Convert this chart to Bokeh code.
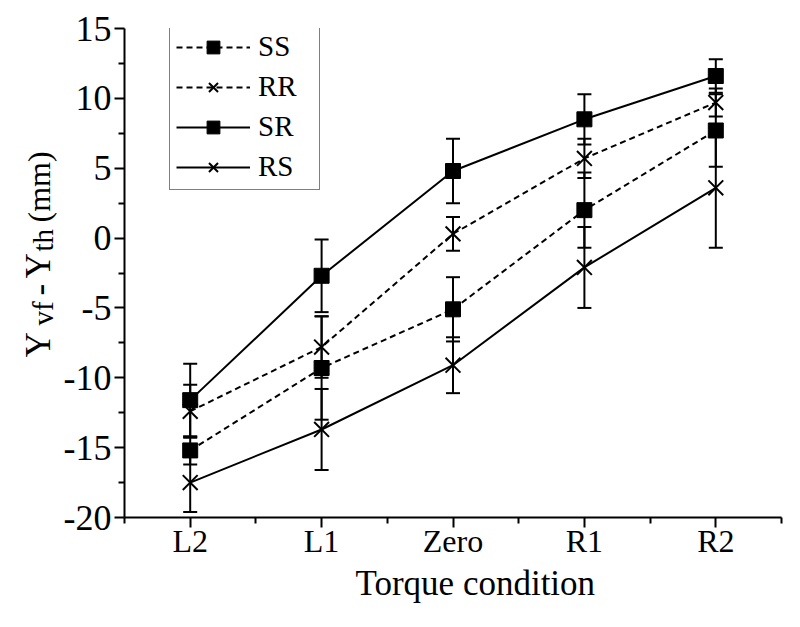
from bokeh.plotting import figure
from bokeh.layouts import row
from bokeh.models import (Range1d, FixedTicker, Legend, LegendItem, Whisker,
                          ColumnDataSource, TeeHead, Title)
from bokeh.core.properties import value
from bokeh.embed import file_html
from bokeh.resources import INLINE
import math

# ---- data ----
categories = ["L2", "L1", "Zero", "R1", "R2"]
x_pos = [1, 2, 3, 4, 5]

ss = [-15.2, -9.3, -5.1, 2.0, 7.7]
ss_err = [1.0, 3.7, 2.3, 2.7, 2.6]

rr = [-12.4, -7.8, 0.3, 5.7, 9.7]
rr_err = [1.9, 2.2, 1.2, 1.4, 1.0]

sr = [-11.6, -2.7, 4.8, 8.5, 11.6]
sr_err = [2.6, 2.6, 2.3, 1.8, 1.2]

rs = [-17.5, -13.7, -9.1, -2.1, 3.6]
rs_err = [2.1, 2.9, 2.0, 2.9, 4.3]

y_ticks = [-20, -15, -10, -5, 0, 5, 10, 15]
y_minor = [-17.5, -12.5, -7.5, -2.5, 2.5, 7.5, 12.5]
x_minor = [0.5, 1.5, 2.5, 3.5, 4.5, 5.5]

FONT = "Liberation Serif"
H = 611
LW = 60

# ---------------- main chart ----------------
p = figure(width=784 - LW, height=H, output_backend="svg", toolbar_location=None,
           x_range=Range1d(0.5, 5.5), y_range=Range1d(-20, 15),
           min_border_left=123 - LW, min_border_right=3,
           min_border_top=28, min_border_bottom=94)
p.frame_align = False
p.background_fill_color = "white"
p.border_fill_color = "white"
p.outline_line_color = None
p.xgrid.visible = False
p.ygrid.visible = False

for ax in (p.xaxis[0], p.yaxis[0]):
    ax.axis_line_width = 2
    ax.axis_line_color = "black"
    ax.major_tick_line_width = 2
    ax.minor_tick_line_width = 2
    ax.major_tick_line_color = "black"
    ax.minor_tick_line_color = "black"
    ax.major_tick_in = 0
    ax.minor_tick_in = 0
    ax.major_tick_out = 10
    ax.minor_tick_out = 6
    ax.major_label_text_font = FONT
    ax.major_label_text_color = "black"

p.yaxis[0].major_label_text_font_size = "36px"
p.xaxis[0].major_label_text_font_size = "32px"
p.yaxis[0].ticker = FixedTicker(ticks=y_ticks, minor_ticks=y_minor)
p.yaxis[0].major_label_overrides = {t: str(t) for t in y_ticks}
p.yaxis[0].major_label_standoff = 3
p.xaxis[0].ticker = FixedTicker(ticks=x_pos, minor_ticks=x_minor)
p.xaxis[0].major_label_overrides = {x: c for x, c in zip(x_pos, categories)}
p.xaxis[0].major_label_standoff = -5

p.add_layout(Title(text="Torque condition", align="left", offset=231,
                   text_font=FONT, text_font_style="normal",
                   text_font_size="35px", text_color="black",
                   standoff=0), "below")

series = [
    ("SS", ss, ss_err, "square", "dashed"),
    ("RR", rr, rr_err, "x", "dashed"),
    ("SR", sr, sr_err, "square", "solid"),
    ("RS", rs, rs_err, "x", "solid"),
]

items = []
for name, vals, errs, marker, dash in series:
    src = ColumnDataSource(dict(
        x=x_pos, y=vals,
        upper=[v + e for v, e in zip(vals, errs)],
        lower=[v - e for v, e in zip(vals, errs)],
    ))
    ln = p.line("x", "y", source=src, line_color="black", line_width=2,
                line_dash="6 4" if dash == "dashed" else "solid")
    wh = Whisker(base="x", upper="upper", lower="lower", source=src,
                 line_color="black", line_width=2,
                 upper_head=TeeHead(size=14, line_width=2, line_color="black"),
                 lower_head=TeeHead(size=14, line_width=2, line_color="black"))
    p.add_layout(wh)
    if marker == "square":
        sc = p.scatter("x", "y", source=src, marker="square", size=15,
                       fill_color="black", line_color="black", line_width=1)
    else:
        sc = p.scatter("x", "y", source=src, marker="x", size=21,
                       line_color="black", line_width=2)
    items.append(LegendItem(label=name, renderers=[ln, sc]))

legend = Legend(items=items, location=(45, 327), orientation="vertical",
                glyph_width=74, glyph_height=32, label_height=32, label_width=55,
                spacing=7, padding=6, margin=0, label_standoff=8,
                label_text_font=FONT, label_text_font_size="29px",
                label_text_color="black", label_text_baseline="middle",
                border_line_color="black", border_line_width=1.5,
                background_fill_color="white", background_fill_alpha=1.0)
p.add_layout(legend, "center")

# ---------------- y-axis title strip (rotated, with subscripts) ----------------
t = figure(width=LW, height=H, output_backend="svg", toolbar_location=None,
           x_range=Range1d(0, LW), y_range=Range1d(0, H),
           min_border=0, x_axis_location=None, y_axis_location=None)
t.frame_align = False
t.outline_line_color = None
t.xgrid.visible = False
t.ygrid.visible = False
t.background_fill_color = "white"
t.border_fill_color = "white"

main_x, sub_x = 38, 42
title_parts = dict(
    txt=["Y", "vf", "-", "Y", "th", "(mm)"],
    x=[main_x, sub_x, main_x, main_x, sub_x, main_x],
    y=[H - 357, H - 325, H - 295, H - 278, H - 251, H - 222],
    fs=["35px", "29px", "35px", "35px", "29px", "32px"],
)
t.text(x="x", y="y", text="txt", source=ColumnDataSource(title_parts),
       angle=math.pi / 2, text_align="left", text_baseline="alphabetic",
       text_font=value(FONT), text_font_size="fs", text_color="black")

layout = row(t, p, spacing=0)
open("out.html", "w").write(file_html(layout, INLINE))
